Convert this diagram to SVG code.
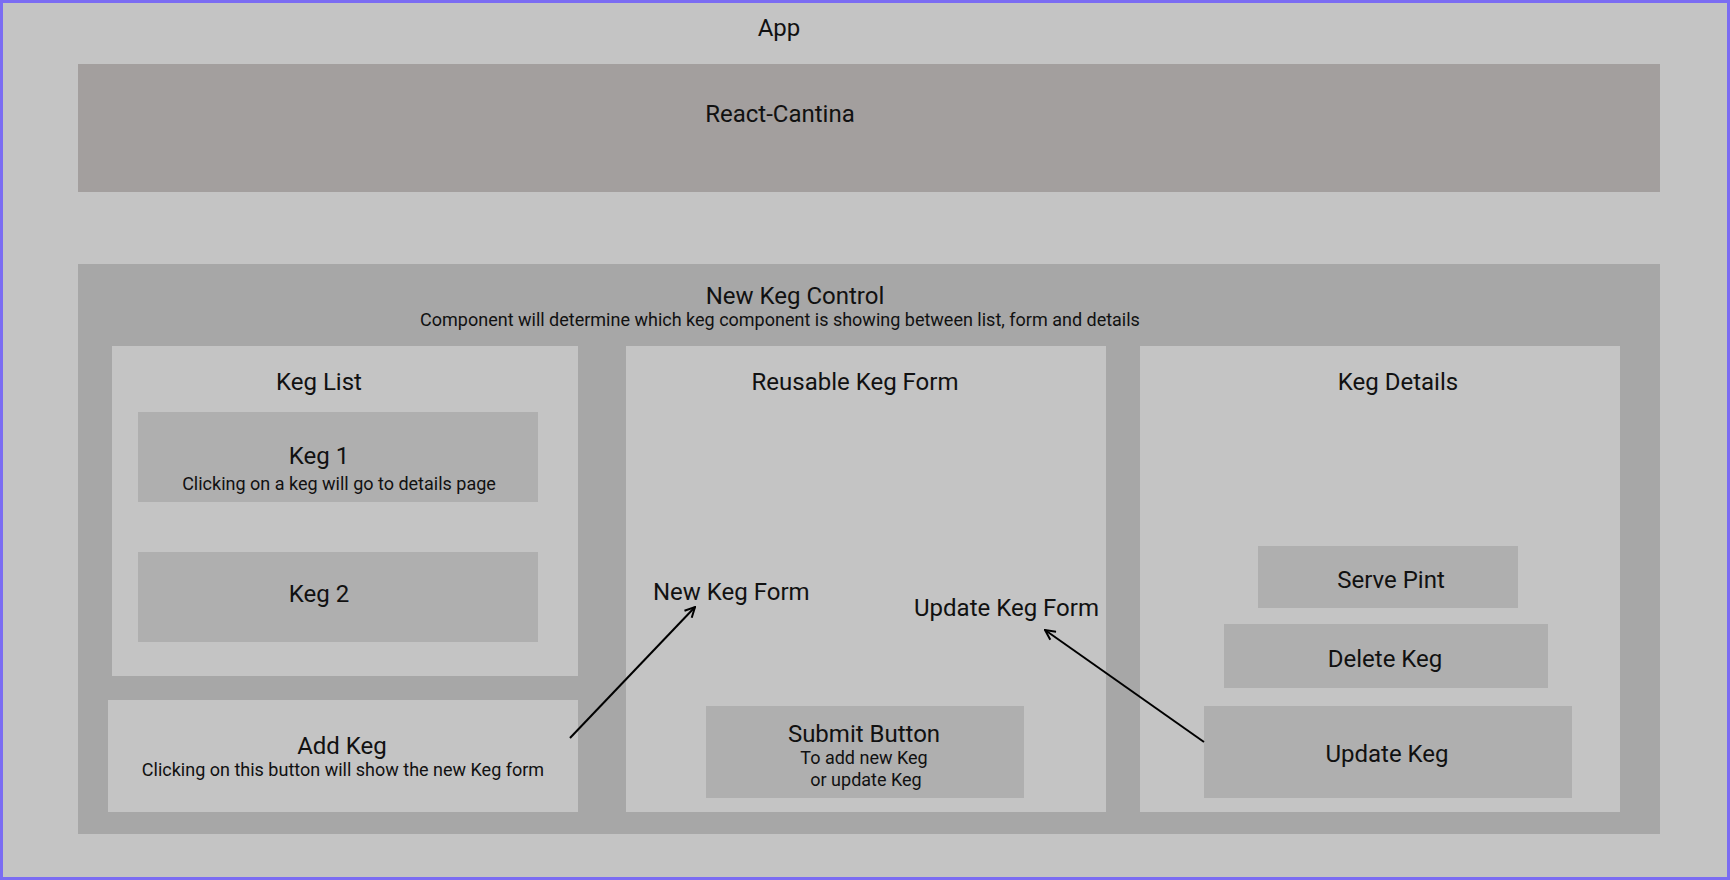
<svg xmlns="http://www.w3.org/2000/svg" width="1730" height="880" viewBox="0 0 1730 880">
  <defs>
    <marker id="arrow" viewBox="0 0 12 12" refX="11" refY="6" markerWidth="12" markerHeight="12" markerUnits="userSpaceOnUse" orient="auto">
      <path d="M1,1 L11,6 L1,11" fill="none" stroke="#000" stroke-width="2"/>
    </marker>
    <style>
      text { font-family: Roboto, "Liberation Sans", sans-serif; fill: #111; text-anchor: middle; }
      .t { font-size: 24px; }
      .s { font-size: 18px; }
      .panel { fill: #c4c4c4; }
      .btn { fill: #afafaf; }
      .link { stroke: #000; stroke-width: 2; fill: none; marker-end: url(#arrow); }
    </style>
  </defs>

  <!-- App frame -->
  <g id="app">
    <rect x="1.5" y="1.5" width="1727" height="877" fill="#c4c4c4" stroke="#7b6cf2" stroke-width="3"/>
    <text class="t" x="779" y="36">App</text>
  </g>

  <g id="react-cantina">
    <rect x="78" y="64" width="1582" height="128" fill="#a39f9e"/>
    <text class="t" x="780" y="122">React-Cantina</text>
  </g>

  <g id="new-keg-control">
    <rect x="78" y="264" width="1582" height="570" fill="#a7a7a7"/>
    <text class="t" x="795" y="304">New Keg Control</text>
    <text class="s" x="780" y="326">Component will determine which keg component is showing between list, form and details</text>
  </g>

  <g id="keg-list">
    <rect class="panel" x="112" y="346" width="466" height="330"/>
    <text class="t" x="319" y="390">Keg List</text>
  </g>

  <g id="keg-1">
    <rect class="btn" x="138" y="412" width="400" height="90"/>
    <text class="t" x="319" y="464">Keg 1</text>
    <text class="s" x="339" y="490">Clicking on a keg will go to details page</text>
  </g>

  <g id="keg-2">
    <rect class="btn" x="138" y="552" width="400" height="90"/>
    <text class="t" x="319" y="602">Keg 2</text>
  </g>

  <g id="add-keg">
    <rect class="panel" x="108" y="700" width="470" height="112"/>
    <text class="t" x="342" y="754">Add Keg</text>
    <text class="s" x="343" y="776">Clicking on this button will show the new Keg form</text>
  </g>

  <g id="reusable-keg-form">
    <rect class="panel" x="626" y="346" width="480" height="466"/>
    <text class="t" x="855" y="390">Reusable Keg Form</text>
  </g>

  <g id="new-keg-form">
    <text class="t" x="653" y="600" style="text-anchor:start">New Keg Form</text>
  </g>

  <g id="update-keg-form">
    <text class="t" x="914" y="616" style="text-anchor:start">Update Keg Form</text>
  </g>

  <g id="submit-button">
    <rect class="btn" x="706" y="706" width="318" height="92"/>
    <text class="t" x="864" y="742">Submit Button</text>
    <text class="s" x="864" y="764">To add new Keg</text>
    <text class="s" x="866" y="786">or update Keg</text>
  </g>

  <g id="keg-details">
    <rect class="panel" x="1140" y="346" width="480" height="466"/>
    <text class="t" x="1398" y="390">Keg Details</text>
  </g>

  <g id="serve-pint">
    <rect class="btn" x="1258" y="546" width="260" height="62"/>
    <text class="t" x="1391" y="588">Serve Pint</text>
  </g>

  <g id="delete-keg">
    <rect class="btn" x="1224" y="624" width="324" height="64"/>
    <text class="t" x="1385" y="667">Delete Keg</text>
  </g>

  <g id="update-keg">
    <rect class="btn" x="1204" y="706" width="368" height="92"/>
    <text class="t" x="1387" y="762">Update Keg</text>
  </g>

  <!-- connectors -->
  <g id="connectors">
    <line class="link" x1="570" y1="738" x2="695" y2="607"/>
    <line class="link" x1="1204" y1="742" x2="1045" y2="630"/>
  </g>
</svg>
